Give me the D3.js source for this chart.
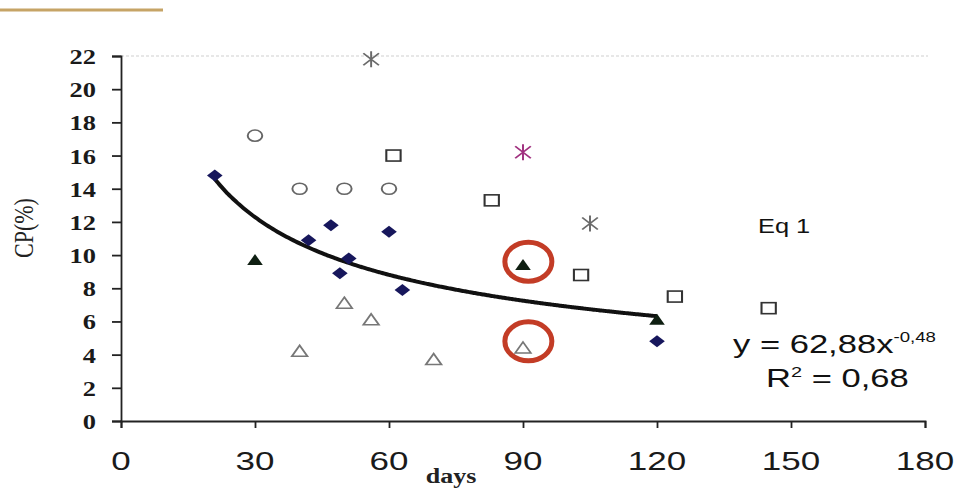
<!DOCTYPE html>
<html>
<head>
<meta charset="utf-8">
<script src="https://cdn.jsdelivr.net/npm/d3@7/dist/d3.min.js"></script>
<style>
  html, body { margin: 0; padding: 0; background: #fff; }
  svg { display: block; }
</style>
</head>
<body>
<svg id="chart" width="955" height="488"></svg>
<script>
// ---------- data ----------
const xTicks = [0, 30, 60, 90, 120, 150, 180];
const yTicks = [0, 2, 4, 6, 8, 10, 12, 14, 16, 18, 20, 22];

const diamondDays = [21, 42, 47, 49, 51, 60, 63, 120];
const diamondCP   = [14.8, 10.9, 11.8, 8.9, 9.8, 11.4, 7.9, 4.8];

const filledTriDays = [30, 90, 120];
const filledTriCP   = [9.7, 9.4, 6.1];

const openTriDays = [40, 50, 56, 70, 90];
const openTriCP   = [4.2, 7.1, 6.1, 3.7, 4.4];

const circleDays = [30, 40, 50, 60];
const circleCP   = [17.2, 14.0, 14.0, 14.0];

const squareDays = [61, 83, 103, 124, 145];
const squareCP   = [16.0, 13.3, 8.8, 7.5, 6.8];

const starDays   = [56, 90, 105];
const starCP     = [21.8, 16.2, 11.9];
const starColors = ["#6a6a6a", "#a0307f", "#6a6a6a"];

const highlightDays = [91.2, 91.2];
const highlightCP   = [9.6, 4.8];

// power trendline y = a * x^b
const trendA = 62.88;
const trendB = -0.48;
const trendRange = [21, 120];

// ---------- layout ----------
const svg = d3.select("#chart");
const x = d3.scaleLinear().domain([0, 180]).range([121, 925]);
const y = d3.scaleLinear().domain([0, 22]).range([421, 56]);
const SX = 1.3; // horizontal stretch of the source picture

// top decorative line
svg.append("line").attr("x1", 0).attr("x2", 163).attr("y1", 10).attr("y2", 10)
  .attr("stroke", "#c6a466").attr("stroke-width", 3);

// top dotted border
svg.append("line").attr("x1", x(0)).attr("x2", x(180) + 3).attr("y1", y(22)).attr("y2", y(22))
  .attr("stroke", "#cfcfcf").attr("stroke-width", 1).attr("stroke-dasharray", "3,2");

// y axis
const yAxis = svg.append("g").attr("transform", `translate(${x(0)},0)`)
  .call(d3.axisLeft(y).tickValues(yTicks).tickSize(9).tickSizeOuter(9).tickFormat(""));
yAxis.select(".domain").attr("stroke", "#222").attr("stroke-width", 1.8);
yAxis.selectAll(".tick line").attr("stroke", "#222").attr("stroke-width", 1.8);

// x axis
const xAxis = svg.append("g").attr("transform", `translate(0,${y(0)})`)
  .call(d3.axisBottom(x).tickValues(xTicks).tickSize(7).tickSizeOuter(7).tickFormat(""));
xAxis.select(".domain").attr("stroke", "#222").attr("stroke-width", 1.8);
xAxis.selectAll(".tick line").attr("stroke", "#222").attr("stroke-width", 1.8);

// stretched text helper
function stext(px, py, str, opts) {
  const t = svg.append("text")
    .attr("transform", `translate(${px},${py}) scale(${opts.sx || SX},1)` + (opts.rot ? ` rotate(${opts.rot})` : ""))
    .attr("font-family", opts.family)
    .attr("font-size", opts.size)
    .attr("font-weight", opts.weight || "normal")
    .attr("text-anchor", opts.anchor || "start")
    .attr("fill", opts.fill || "#111");
  if (str !== null) t.text(str);
  return t;
}

// y tick labels
yTicks.forEach(v => {
  stext(96, y(v) + 8, String(v), { family: "'Liberation Serif', 'Times New Roman', serif", size: 22, weight: "bold", anchor: "end", sx: 1.2, fill: "#1a1a1a" });
});
// x tick labels
xTicks.forEach(v => {
  stext(x(v), 470, String(v), { family: "'Liberation Sans', Arial, sans-serif", size: 25, anchor: "middle", sx: 1.4, fill: "#1a1a1a" });
});

// axis titles
stext(451, 483, "days", { family: "'Liberation Serif', 'Times New Roman', serif", size: 20, weight: "bold", anchor: "middle", sx: 1.3, fill: "#222" });
stext(33, 228, "CP(%)", { family: "'Liberation Serif', 'Times New Roman', serif", size: 22, anchor: "middle", sx: 1.2, rot: -90, fill: "#222" });

// trendline
const trendPts = d3.range(trendRange[0], trendRange[1] + 0.01, 0.5).map(d => [d, trendA * Math.pow(d, trendB)]);
svg.append("path")
  .attr("d", d3.line().x(d => x(d[0])).y(d => y(d[1])).curve(d3.curveMonotoneX)(trendPts))
  .attr("fill", "none").attr("stroke", "#111").attr("stroke-width", 4);

// markers
function pts(days, cp) { return days.map((d, i) => ({ d, v: cp[i], i })); }
const mk = (sel) => sel.attr("transform", p => `translate(${x(p.d)},${y(p.v)}) scale(${SX},1)`);

// open circles
mk(svg.append("g").selectAll("ellipse").data(pts(circleDays, circleCP)).join("ellipse"))
  .attr("rx", 5.6).attr("ry", 5.6).attr("fill", "#fff").attr("stroke", "#666").attr("stroke-width", 1.5);

// open squares
mk(svg.append("g").selectAll("rect").data(pts(squareDays, squareCP)).join("rect"))
  .attr("x", -5.5).attr("y", -5.5).attr("width", 11).attr("height", 11)
  .attr("fill", "#fff").attr("stroke", "#333").attr("stroke-width", 1.6);

// open triangles
mk(svg.append("g").selectAll("path").data(pts(openTriDays, openTriCP)).join("path"))
  .attr("d", "M0,-6 L6,5 L-6,5 Z").attr("fill", "#fff").attr("stroke", "#777").attr("stroke-width", 1.5);

// diamonds
mk(svg.append("g").selectAll("path").data(pts(diamondDays, diamondCP)).join("path"))
  .attr("d", "M0,-6 L6,0 L0,6 L-6,0 Z").attr("fill", "#17175c");

// filled triangles
mk(svg.append("g").selectAll("path").data(pts(filledTriDays, filledTriCP)).join("path"))
  .attr("d", "M0,-6 L6,5 L-6,5 Z").attr("fill", "#0f1f12");

// asterisks
mk(svg.append("g").selectAll("path").data(pts(starDays, starCP)).join("path"))
  .attr("d", "M0,-8 L0,8 M-6,-6 L6,6 M-6,6 L6,-6")
  .attr("fill", "none").attr("stroke", p => starColors[p.i]).attr("stroke-width", 1.5);

// highlight circles
svg.append("g").selectAll("ellipse").data(pts(highlightDays, highlightCP)).join("ellipse")
  .attr("cx", p => x(p.d)).attr("cy", p => y(p.v))
  .attr("rx", 23.5).attr("ry", 19.5)
  .attr("fill", "none").attr("stroke", "#c33c26").attr("stroke-width", 5);

// annotations
stext(758, 233, "Eq 1", { family: "'Liberation Sans', Arial, sans-serif", size: 20, sx: 1.27, fill: "#111" });

const eq = stext(733, 353, null, { family: "'Liberation Sans', Arial, sans-serif", size: 26, sx: 1.33, fill: "#111" });
eq.append("tspan").text("y = 62,88x");
eq.append("tspan").attr("font-size", 14).attr("dy", -11).text("-0,48");

const r2 = stext(766, 387, null, { family: "'Liberation Sans', Arial, sans-serif", size: 26, sx: 1.33, fill: "#111" });
r2.append("tspan").text("R");
r2.append("tspan").attr("font-size", 15).attr("dy", -10).text("2");
r2.append("tspan").attr("dy", 10).text(" = 0,68");
</script>
</body>
</html>
